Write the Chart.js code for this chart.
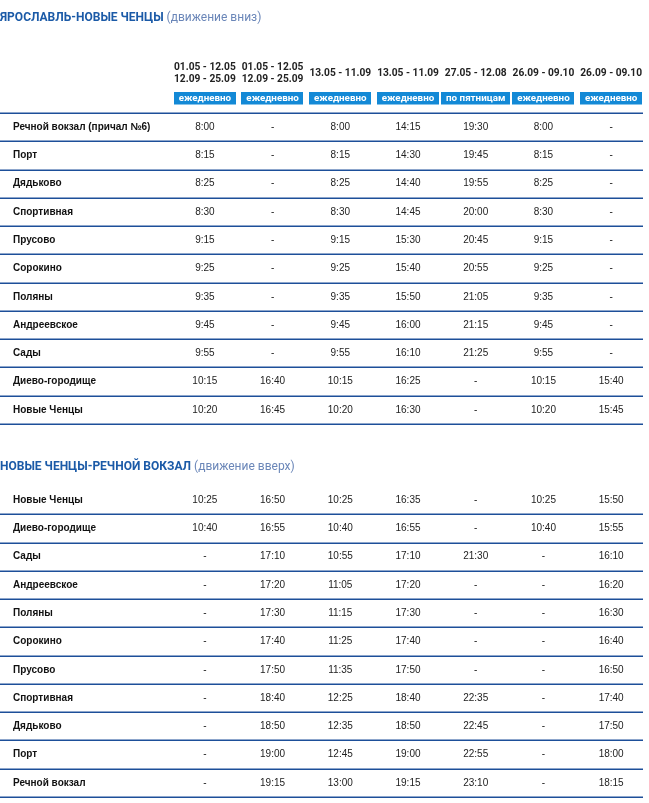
<!DOCTYPE html>
<html><head><meta charset="utf-8">
<script src="https://cdn.jsdelivr.net/npm/chart.js@4"></script>
<style>
html,body{margin:0;padding:0;background:#fff;width:649px;height:803px;overflow:hidden}
.box{position:absolute;left:0;width:649px}
</style></head><body>
<div class="box" style="top:0;height:430px"><canvas id="c1"></canvas></div>
<div class="box" style="top:430px;height:373px"><canvas id="c2"></canvas></div>
<script>
const colKeys = ['c1','c2','c3','c4','c5','c6','c7'];
const periods = [['01.05 - 12.05','12.09 - 25.09'],['01.05 - 12.05','12.09 - 25.09'],['13.05 - 11.09'],['13.05 - 11.09'],['27.05 - 12.08'],['26.09 - 09.10'],['26.09 - 09.10']];
const badges = ['ежедневно','ежедневно','ежедневно','ежедневно','по пятницам','ежедневно','ежедневно'];

const titleDown = ['ЯРОСЛАВЛЬ-НОВЫЕ ЧЕНЦЫ', ' (движение вниз)'];
const stopsDown = ['Речной вокзал (причал №6)','Порт','Дядьково','Спортивная','Прусово','Сорокино','Поляны','Андреевское','Сады','Диево-городище','Новые Ченцы'];
const down1 = ['8:00','8:15','8:25','8:30','9:15','9:25','9:35','9:45','9:55','10:15','10:20'];
const down2 = ['-','-','-','-','-','-','-','-','-','16:40','16:45'];
const down3 = ['8:00','8:15','8:25','8:30','9:15','9:25','9:35','9:45','9:55','10:15','10:20'];
const down4 = ['14:15','14:30','14:40','14:45','15:30','15:40','15:50','16:00','16:10','16:25','16:30'];
const down5 = ['19:30','19:45','19:55','20:00','20:45','20:55','21:05','21:15','21:25','-','-'];
const down6 = ['8:00','8:15','8:25','8:30','9:15','9:25','9:35','9:45','9:55','10:15','10:20'];
const down7 = ['-','-','-','-','-','-','-','-','-','15:40','15:45'];

const titleUp = ['НОВЫЕ ЧЕНЦЫ-РЕЧНОЙ ВОКЗАЛ', ' (движение вверх)'];
const stopsUp = ['Новые Ченцы','Диево-городище','Сады','Андреевское','Поляны','Сорокино','Прусово','Спортивная','Дядьково','Порт','Речной вокзал'];
const up1 = ['10:25','10:40','-','-','-','-','-','-','-','-','-'];
const up2 = ['16:50','16:55','17:10','17:20','17:30','17:40','17:50','18:40','18:50','19:00','19:15'];
const up3 = ['10:25','10:40','10:55','11:05','11:15','11:25','11:35','12:25','12:35','12:45','13:00'];
const up4 = ['16:35','16:55','17:10','17:20','17:30','17:40','17:50','18:40','18:50','19:00','19:15'];
const up5 = ['-','-','21:30','-','-','-','-','22:35','22:45','22:55','23:10'];
const up6 = ['10:25','10:40','-','-','-','-','-','-','-','-','-'];
const up7 = ['15:50','15:55','16:10','16:20','16:30','16:40','16:50','17:40','17:50','18:00','18:15'];

const LINE = '#1d4f99';
const BODY = '"Liberation Sans", Arial, sans-serif';

function makeTable(id, stops, cols, title, opt) {
  const datasets = cols.map((vals, ci) => ({
    label: colKeys[ci],
    data: stops.map((s, ri) => ({x: colKeys[ci], y: s, t: vals[ri]})),
    pointRadius: 0, pointHoverRadius: 0, showLine: false
  }));
  const plugin = {
    id: 'tbl_' + id,
    afterDatasetsDraw(chart) {
      const ctx = chart.ctx, xs = chart.scales.x, ys = chart.scales.y;
      ctx.save();
      // title
      ctx.textBaseline = 'middle';
      ctx.textAlign = 'left';
      ctx.font = 'bold 12px Roboto';
      ctx.fillStyle = '#1b5aa7';
      ctx.fillText(title[0], 0, opt.titleY);
      const w = ctx.measureText(title[0]).width;
      ctx.font = '12px Roboto';
      ctx.fillStyle = '#6a86b8';
      ctx.fillText(title[1], w, opt.titleY);
      // header
      if (opt.header) {
        colKeys.forEach((k, ci) => {
          const cx = xs.getPixelForValue(ci);
          ctx.font = 'bold 10.2px Roboto';
          ctx.fillStyle = '#222';
          ctx.textAlign = 'center';
          const p = periods[ci];
          if (p.length === 2) { ctx.fillText(p[0], cx, 67.5); ctx.fillText(p[1], cx, 79.5); }
          else ctx.fillText(p[0], cx, 73.5);
          ctx.font = 'bold 9.8px Roboto';
          const bw = ctx.measureText(badges[ci]).width + 10;
          ctx.fillStyle = '#1389d6';
          ctx.fillRect(Math.round(cx - bw / 2), 92, Math.round(bw), 12.5);
          ctx.fillStyle = '#fff';
          ctx.fillText(badges[ci], cx, 98.5);
        });
      }
      // lines
      const band = ys.getPixelForValue(1) - ys.getPixelForValue(0);
      ctx.strokeStyle = LINE;
      ctx.lineWidth = 1.6;
      for (let i = opt.topLine ? 0 : 1; i <= stops.length; i++) {
        const y = Math.round(ys.getPixelForValue(0) - band / 2 + i * band) + 0.2;
        ctx.beginPath(); ctx.moveTo(0, y); ctx.lineTo(643, y); ctx.stroke();
      }
      // stop names
      ctx.textAlign = 'left';
      ctx.font = 'bold 10px ' + BODY;
      ctx.fillStyle = '#111';
      stops.forEach((s, ri) => ctx.fillText(s, 13, ys.getPixelForValue(ri)));
      // cells
      ctx.textAlign = 'center';
      ctx.font = '10px ' + BODY;
      ctx.fillStyle = '#222';
      chart.data.datasets.forEach((ds, di) => {
        chart.getDatasetMeta(di).data.forEach((pt, i) => {
          ctx.fillText(ds.data[i].t, pt.x, pt.y);
        });
      });
      ctx.restore();
    }
  };
  return new Chart(document.getElementById(id), {
    type: 'scatter',
    data: {datasets},
    options: {
      responsive: true, maintainAspectRatio: false, animation: false, devicePixelRatio: 1,
      layout: {padding: {top: opt.top, bottom: opt.bottom, left: 171, right: 4}},
      plugins: {legend: {display: false}, tooltip: {enabled: false}},
      scales: {
        x: {type: 'category', labels: colKeys, offset: true, display: false},
        y: {type: 'category', labels: stops, offset: true, display: false}
      }
    },
    plugins: [plugin]
  });
}

makeTable('c1', stopsDown, [down1, down2, down3, down4, down5, down6, down7], titleDown,
  {top: 113, bottom: 6, titleY: 17.5, header: true, topLine: true});
makeTable('c2', stopsUp, [up1, up2, up3, up4, up5, up6, up7], titleUp,
  {top: 56, bottom: 6, titleY: 36.5, header: false, topLine: false});
</script>
</body></html>
